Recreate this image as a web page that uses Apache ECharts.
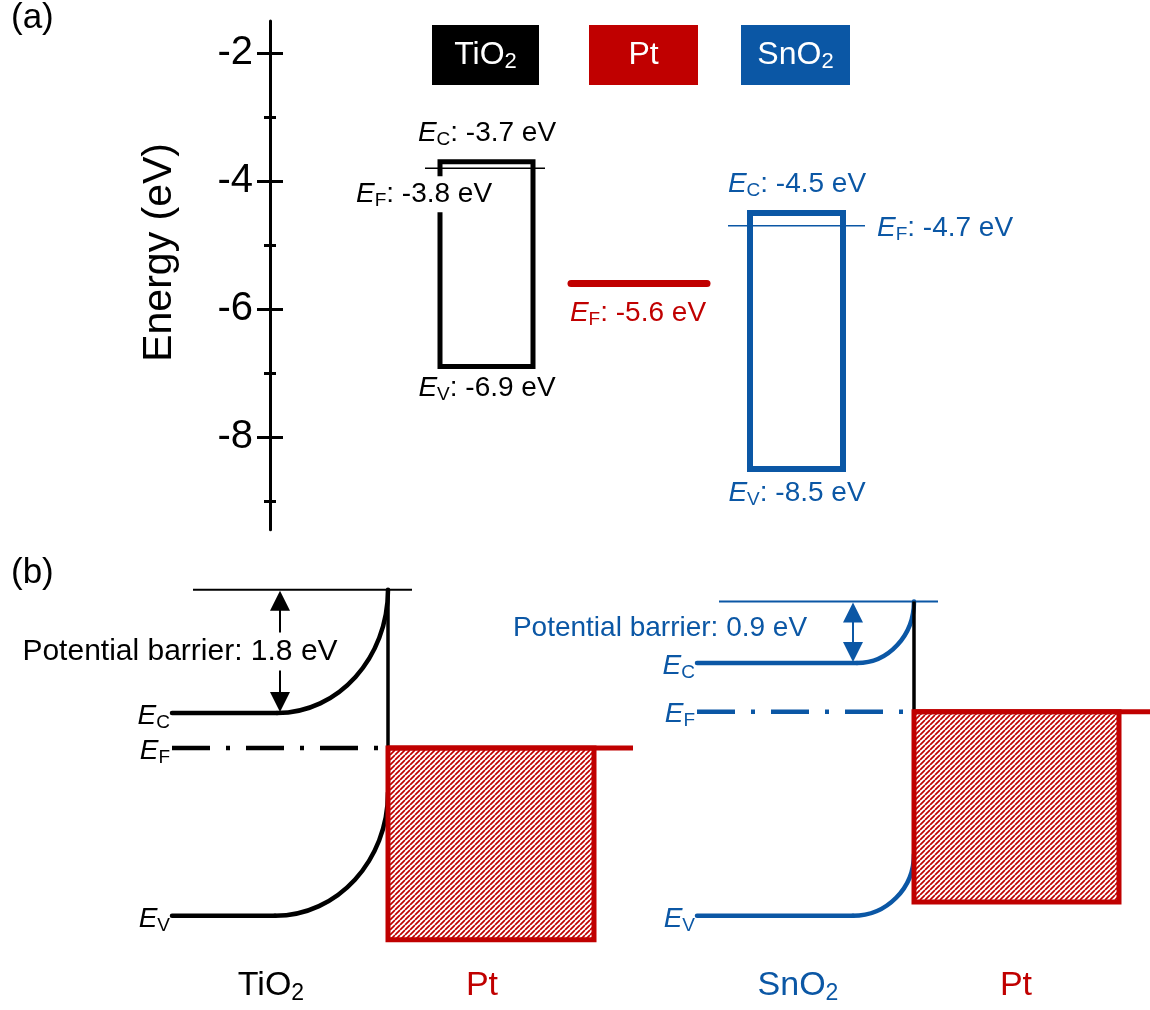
<!DOCTYPE html>
<html><head><meta charset="utf-8">
<script src="https://cdn.jsdelivr.net/npm/echarts@6/dist/echarts.min.js"></script>
<style>html,body{margin:0;padding:0;background:#fff}#chart{width:1150px;height:1010px}</style>
</head><body><div id="chart"></div>
<script>
// ---------------- data ----------------
const materials = ['TiO2', 'Pt', 'SnO2'];
const conductionBandEV = [-3.7, null, -4.5];
const fermiLevelEV = [-3.8, -5.6, -4.7];
const valenceBandEV = [-6.9, null, -8.5];
const majorTicks = [-8, -6, -4, -2];
const minorTicks = [-9, -7, -5, -3];

// (b) schematic band diagrams (eV, relative to the TiO2/Pt Fermi level)
const junctionNames = ['TiO2', 'SnO2'];
const contactName = 'Pt';
const barrierHeightEV = [1.8, 0.9];
const junctionEC = [0.51, 1.24];
const junctionEF = [0, 0.53];
const junctionEV = [-2.45, -2.45];
const contactBottom = [-2.80, -2.25];

// ---------------- style / layout ----------------
const FONT = 'Liberation Sans, Arial, Helvetica, sans-serif';
const BLACK = '#000000', RED = '#C00000', BLUE = '#0B57A5';
const MATERIAL_COLORS = [BLACK, RED, BLUE];

const A_LAYOUT = [
  {x0: 170, x1: 263, lw: 5, ef0: 155, ef1: 275, efW: 1.6, ecLbl: [217, -29, 'center'], efLbl: [82, 26, 'left', true], evLbl: [217, 22, 'center']},
  {ef0: 301, ef1: 437, efW: 7, efCap: 'round', efLbl: [368, 30, 'center']},
  {x0: 480, x1: 573, lw: 6, ef0: 458, ef1: 595, efW: 1.6, ecLbl: [527, -29, 'center'], efLbl: [607, 2, 'left'], evLbl: [527, 24, 'center']}
];
const B_LAYOUT = [
  {start: 172, bendEC: 277, bendEV: 275, iface: 388, top0: 193, top1: 412, arrow: 280, ptRight: 594, ptEnd: 633,
   barrierX: 180, barrierDy: 0, barrierSize: 30, nameX: 271, ptNameX: 482, color: BLACK},
  {start: 697, bendEC: 857, bendEV: 853, iface: 914, top0: 719, top1: 938, arrow: 853, ptRight: 1119, ptEnd: 1150,
   barrierX: 660, barrierDy: -4, barrierSize: 28, nameX: 798, ptNameX: 1016, color: BLUE}
];
const NAME_LEVEL = -3.47;

function rich(color, size) {
  return {
    i: {fill: color, fontSize: size, fontStyle: 'italic', fontFamily: FONT, lineHeight: size + 4},
    n: {fill: color, fontSize: size, fontFamily: FONT, lineHeight: size + 4},
    s: {fill: color, fontSize: Math.round(size * 0.68), fontFamily: FONT, lineHeight: Math.round(size * 0.5), verticalAlign: 'bottom'}
  };
}
function chem(name) { return name.replace(/(\d+)/g, '}{s|$1}{n|').replace(/^/, '{n|') + '}'; }
function lvl(sub, v) { return '{i|E}{s|' + sub + '}{n|: ' + v.toFixed(1) + ' eV}'; }
function txt(x, y, text, color, size, align, bg) {
  const st = {x: x, y: y, text: text, rich: rich(color, size), fill: color, fontSize: size, fontFamily: FONT,
    align: align, verticalAlign: 'middle'};
  if (bg) { st.backgroundColor = '#ffffff'; st.padding = [2, 4]; }
  return {type: 'text', style: st, z2: 20};
}
function seg(p, q, color, w, cap, dash) {
  const st = {stroke: color, lineWidth: w, lineCap: cap || 'butt'};
  if (dash) st.lineDash = dash;
  return {type: 'line', shape: {x1: p[0], y1: p[1], x2: q[0], y2: q[1]}, style: st};
}

function makeHatch() {
  const s = 5;
  const cv = document.createElement('canvas');
  cv.width = s; cv.height = s;
  const g = cv.getContext('2d');
  g.fillStyle = '#ffffff'; g.fillRect(0, 0, s, s);
  g.strokeStyle = RED; g.lineWidth = 1.7;
  g.beginPath();
  [-s, 0, s].forEach(function (o) { g.moveTo(o, s); g.lineTo(o + s, 0); });
  g.stroke();
  return {image: cv, repeat: 'repeat'};
}
const HATCH = makeHatch();

function renderA(params, api) {
  const i = api.value(0);
  const L = A_LAYOUT[i], col = MATERIAL_COLORS[i];
  const C = function (x, v) { return api.coord([x, v]); };
  const ec = conductionBandEV[i], ef = fermiLevelEV[i], ev = valenceBandEV[i];
  const ch = [];
  if (ec !== null) {
    const a = C(L.x0, ec), b = C(L.x1, ev);
    ch.push({type: 'rect', shape: {x: a[0], y: a[1], width: b[0] - a[0], height: b[1] - a[1]},
      style: {fill: 'none', stroke: col, lineWidth: L.lw}});
  }
  ch.push(seg(C(L.ef0, ef), C(L.ef1, ef), col, L.efW, L.efCap));
  if (ec !== null) {
    const p = C(L.ecLbl[0], ec);
    ch.push(txt(p[0], p[1] + L.ecLbl[1], lvl('C', ec), col, 28, L.ecLbl[2]));
    const q = C(L.evLbl[0], ev);
    ch.push(txt(q[0], q[1] + L.evLbl[1], lvl('V', ev), col, 28, L.evLbl[2]));
  }
  const f = C(L.efLbl[0], ef);
  ch.push(txt(f[0], f[1] + L.efLbl[1], lvl('F', ef), col, 28, L.efLbl[2], L.efLbl[3]));
  return {type: 'group', children: ch};
}

function bend(p0, p1, p2, color, w) {
  // flat segment p0->p1 then quarter-ellipse-like bend p1->p2
  const k = 0.5523;
  return [
    seg(p0, p1, color, w, 'round'),
    {type: 'bezierCurve', shape: {x1: p1[0], y1: p1[1], x2: p2[0], y2: p2[1],
      cpx1: p1[0] + k * (p2[0] - p1[0]), cpy1: p1[1], cpx2: p2[0], cpy2: p2[1] + k * (p1[1] - p2[1])},
      style: {fill: 'none', stroke: color, lineWidth: w, lineCap: 'round'}}
  ];
}

function renderB(params, api) {
  const k = api.value(0);
  const L = B_LAYOUT[k], c = L.color;
  const C = function (x, v) { return api.coord([x, v]); };
  const ec = junctionEC[k], ef = junctionEF[k], ev = junctionEV[k], b = barrierHeightEV[k];
  const top = ec + b;
  let ch = [];
  ch.push(seg(C(L.top0, top), C(L.top1, top), c, 2));
  ch = ch.concat(bend(C(L.start, ec), C(L.bendEC, ec), C(L.iface, top), c, 4.5));
  ch = ch.concat(bend(C(L.start, ev), C(L.bendEV, ev), C(L.iface, ev + b), c, 4.5));
  ch.push(seg(C(L.start, ef), C(L.iface, ef), c, 4.5, 'butt', [38, 16, 4, 16]));
  ch.push(seg(C(L.iface, top), C(L.iface, ef), BLACK, 3.5));
  const p0 = C(L.iface, ef), p1 = C(L.ptRight, contactBottom[k]);
  ch.push({type: 'rect', shape: {x: p0[0], y: p0[1], width: p1[0] - p0[0], height: p1[1] - p0[1]},
    style: {fill: HATCH, stroke: RED, lineWidth: 5}});
  ch.push(seg(p0, C(L.ptEnd, ef), RED, 5));
  // double-headed arrow for the barrier
  const aT = C(L.arrow, top), aB = C(L.arrow, ec);
  const hh = 20, hw = 10;
  ch.push(seg([aT[0], aT[1] + hh], [aB[0], aB[1] - hh], c, 2));
  ch.push({type: 'polygon', shape: {points: [[aT[0], aT[1] + 1], [aT[0] - hw, aT[1] + hh + 1], [aT[0] + hw, aT[1] + hh + 1]]}, style: {fill: c}});
  ch.push({type: 'polygon', shape: {points: [[aB[0], aB[1] - 1], [aB[0] - hw, aB[1] - hh - 1], [aB[0] + hw, aB[1] - hh - 1]]}, style: {fill: c}});
  // labels
  const mid = C(L.barrierX, (top + ec) / 2);
  ch.push(txt(mid[0], mid[1] + L.barrierDy, '{n|Potential barrier: ' + b.toFixed(1) + ' eV}', c, L.barrierSize, 'center', true));
  [['C', ec], ['F', ef], ['V', ev]].forEach(function (d) {
    const p = C(L.start, d[1]);
    ch.push(txt(p[0] - 2, p[1] + 3, '{i|E}{s|' + d[0] + '}', c, 28, 'right'));
  });
  const nm = C(L.nameX, NAME_LEVEL), pn = C(L.ptNameX, NAME_LEVEL);
  ch.push(txt(nm[0], nm[1], chem(junctionNames[k]), c, 34, 'center'));
  ch.push(txt(pn[0], pn[1], chem(contactName), RED, 34, 'center'));
  return {type: 'group', children: ch};
}

const legendBoxes = [{x: 432, w: 107}, {x: 589, w: 109}, {x: 741, w: 109}];
const graphics = [
  {type: 'text', left: 11, top: 1, style: {text: '(a)', fontSize: 35, fontFamily: FONT, fill: BLACK}},
  {type: 'text', left: 11, top: 556, style: {text: '(b)', fontSize: 35, fontFamily: FONT, fill: BLACK}}
];
materials.forEach(function (m, i) {
  const bx = legendBoxes[i];
  graphics.push({type: 'rect', shape: {x: bx.x, y: 25, width: bx.w, height: 60}, style: {fill: MATERIAL_COLORS[i]}});
  graphics.push({type: 'text', x: bx.x + bx.w / 2, y: 55,
    style: {text: chem(m), rich: rich('#ffffff', 32), fill: '#ffffff', fontSize: 32, fontFamily: FONT,
      align: 'center', verticalAlign: 'middle', textAlign: 'center', textVerticalAlign: 'middle'}});
});

function tickAxis(values, inside, len, showLine, showLabel) {
  return {
    type: 'value', gridIndex: 0, position: 'left', offset: 0, min: -9.45, max: -1.5,
    axisLine: {show: showLine, onZero: false, lineStyle: {color: BLACK, width: 3}},
    axisTick: {show: true, inside: inside, length: len, customValues: values, lineStyle: {color: BLACK, width: 3}},
    axisLabel: {show: showLabel, customValues: majorTicks, fontSize: 40, margin: 17, color: BLACK, fontFamily: FONT},
    splitLine: {show: false}
  };
}
const yMain = tickAxis(majorTicks, false, 13, true, true);
yMain.name = 'Energy (eV)';
yMain.nameLocation = 'middle';
yMain.nameGap = 90;
yMain.nameTextStyle = {fontSize: 41, fontFamily: FONT, color: BLACK, padding: [0, 0, 0, 46]};

const option = {
  animation: false,
  backgroundColor: '#ffffff',
  grid: [
    {left: 270, top: 21, width: 880, height: 508.8},
    {left: 0, top: 559.6, width: 1150, height: 448.7}
  ],
  xAxis: [
    {type: 'value', gridIndex: 0, min: 0, max: 880, show: false},
    {type: 'value', gridIndex: 1, min: 0, max: 1150, show: false}
  ],
  yAxis: [
    yMain,
    tickAxis(majorTicks, true, 13, false, false),
    tickAxis(minorTicks, false, 6, false, false),
    tickAxis(minorTicks, true, 6, false, false),
    {type: 'value', gridIndex: 1, min: -3.8, max: 2.75, show: false}
  ],
  graphic: graphics,
  series: [
    {type: 'custom', xAxisIndex: 0, yAxisIndex: 0, clip: false, silent: true,
     data: materials.map(function (m, i) { return [i, fermiLevelEV[i]]; }), renderItem: renderA},
    {type: 'custom', xAxisIndex: 1, yAxisIndex: 4, clip: false, silent: true,
     data: junctionNames.map(function (m, k) { return [k, junctionEF[k]]; }), renderItem: renderB}
  ]
};
const chart = echarts.init(document.getElementById('chart'), null, {renderer: 'canvas'});
chart.setOption(option);
</script></body></html>
